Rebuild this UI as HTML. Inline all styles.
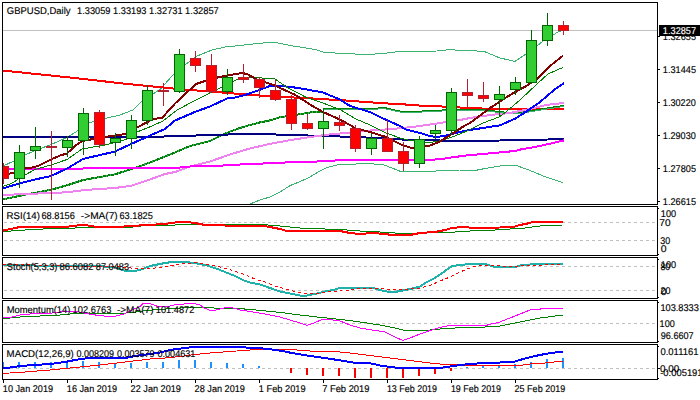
<!DOCTYPE html><html><head><meta charset="utf-8"><title>GBPUSD Daily</title>
<style>html,body{margin:0;padding:0;background:#fff;}svg{display:block}text{font-family:"Liberation Sans", sans-serif}</style></head><body>
<svg width="700" height="400" viewBox="0 0 700 400">
<rect width="700" height="400" fill="#fff"/>
<defs><clipPath id="cm"><rect x="3" y="3" width="654" height="201"/></clipPath></defs>
<g shape-rendering="crispEdges">
<line x1="4" x2="657" y1="222.5" y2="222.5" stroke="#c0c0c0" stroke-width="1" stroke-dasharray="3 3"/>
<line x1="4" x2="657" y1="240.5" y2="240.5" stroke="#c0c0c0" stroke-width="1" stroke-dasharray="3 3"/>
<line x1="4" x2="657" y1="266.5" y2="266.5" stroke="#c0c0c0" stroke-width="1" stroke-dasharray="3 3"/>
<line x1="4" x2="657" y1="290.5" y2="290.5" stroke="#c0c0c0" stroke-width="1" stroke-dasharray="3 3"/>
<line x1="4" x2="657" y1="323.5" y2="323.5" stroke="#c0c0c0" stroke-width="1" stroke-dasharray="3 3"/>
<line x1="4" x2="657" y1="368.5" y2="368.5" stroke="#c0c0c0" stroke-width="1" stroke-dasharray="3 3"/>
<line x1="3" x2="657" y1="30.5" y2="30.5" stroke="#c0c0c0" stroke-width="1"/>
</g>
<g clip-path="url(#cm)" shape-rendering="crispEdges" stroke-linejoin="round">
<polyline points="2.00,166.50 14.00,161.00 25.00,155.00 35.00,150.50 50.00,145.00 67.00,137.50 75.00,132.50 90.00,122.50 107.00,118.00 120.00,115.00 133.00,110.00 142.00,101.00 160.00,89.50 172.00,76.00 185.00,65.00 197.00,56.00 212.00,50.00 225.00,47.00 240.00,45.50 257.00,43.50 270.00,42.50 276.00,42.50 290.00,45.50 300.00,47.00 315.00,49.50 325.00,52.50 365.00,54.50 380.00,53.75 400.00,51.50 437.00,51.00 450.00,49.50 460.00,50.50 470.00,50.60 484.00,51.40 500.00,58.00 515.00,61.40 526.00,54.00 537.00,46.00 543.00,41.00 553.00,35.00 558.00,32.00 563.00,30.00" fill="none" stroke="#3cb371" stroke-width="1"/>
<polyline points="250.00,204.00 261.00,199.60 270.00,197.00 280.00,192.00 290.00,185.60 300.00,181.60 310.00,177.00 318.00,172.00 326.00,168.00 334.00,165.60 342.00,164.00 356.00,164.00 370.00,163.60 384.00,165.00 392.00,168.00 402.00,172.00 428.00,171.60 444.00,170.40 460.00,170.00 475.00,170.50 485.00,168.50 500.00,166.00 515.00,165.00 530.00,170.50 547.00,177.50 563.00,182.50" fill="none" stroke="#3cb371" stroke-width="1"/>
<polyline points="2.00,70.50 75.00,78.00 125.00,83.75 150.00,86.25 175.00,88.75 240.00,94.00 280.00,97.00 307.00,98.00 323.00,99.25 340.00,100.00 360.00,101.60 386.00,103.40 404.00,104.40 420.00,105.60 444.00,106.60 468.00,108.00 484.00,108.60 500.00,109.00 564.00,109.00" fill="none" stroke="#ff0000" stroke-width="2"/>
<polyline points="2.00,199.50 30.00,193.75 50.00,190.00 67.00,185.30 83.00,180.00 99.00,177.20 115.00,174.30 131.00,169.20 140.00,166.25 155.00,160.50 175.00,152.50 190.00,146.00 210.00,141.00 220.00,136.00 230.00,131.60 240.00,128.00 250.00,125.00 260.00,122.40 270.00,120.40 280.00,117.25 295.00,115.00 310.00,112.50 323.00,112.00" fill="none" stroke="#3cb371" stroke-width="2"/>
<polyline points="2.00,199.50 30.00,193.75 50.00,190.00 67.00,185.30 83.00,180.00 99.00,177.20 115.00,174.30 131.00,169.20 140.00,166.25 155.00,160.50 175.00,152.50 190.00,146.00 210.00,141.00 220.00,136.00 230.00,131.60 240.00,128.00 250.00,125.00 260.00,122.40 270.00,120.40 280.00,117.25 295.00,115.00 310.00,112.50 323.00,112.00" fill="none" stroke="#008000" stroke-width="2" stroke-dasharray="3 1"/>
<polyline points="323.00,112.50 323.00,110.00 340.00,109.50 386.00,108.90 400.00,112.10 420.00,112.10 444.00,110.90 457.00,110.10 483.00,110.50 499.00,112.50 515.00,114.00 531.00,111.70 547.00,109.00 564.00,106.40" fill="none" stroke="#3cb371" stroke-width="1"/>
<polyline points="323.00,111.50 323.00,109.00 340.00,108.50 386.00,107.90 400.00,111.10 420.00,111.10 444.00,109.90 457.00,109.10 483.00,109.50 499.00,111.50 515.00,113.00 531.00,110.70 547.00,108.00 564.00,105.40" fill="none" stroke="#008000" stroke-width="1"/>
<polyline points="2.00,137.00 148.00,137.00 164.00,136.50 196.00,135.50 228.00,134.50 244.00,134.00 262.00,134.00 276.00,134.50 308.00,135.50 340.00,136.50 366.00,137.50 386.00,138.50 404.00,139.60 440.00,140.50 480.00,141.00 500.00,140.50 548.00,139.50 564.00,139.00" fill="none" stroke="#000080" stroke-width="2"/>
</g>
<g clip-path="url(#cm)" shape-rendering="crispEdges" stroke-linejoin="round">
<polyline points="2.00,195.00 50.00,193.00 67.00,192.30 83.00,190.20 99.00,189.00 115.00,188.00 131.00,185.80 150.00,179.50 165.00,174.00 175.00,172.00 190.00,166.50 210.00,161.50 230.00,154.50 250.00,148.50 270.00,143.80 290.00,140.20 310.00,137.00 330.00,134.40 350.00,132.60 370.00,130.50 385.00,129.50 400.00,128.30 420.00,126.00 440.00,123.00 460.00,120.00 470.00,118.00 490.00,115.00 510.00,113.00 530.00,109.00 546.00,105.00 564.00,103.00" fill="none" stroke="#ee82ee" stroke-width="2"/>
<polyline points="2.00,169.00 82.50,169.00 83.50,168.00 175.00,168.00 190.00,166.50 210.00,166.40 230.00,165.00 250.00,164.00 276.00,163.00 294.00,162.00 322.00,161.40 340.00,160.20 360.00,159.60 400.00,159.60 435.00,159.50 443.00,158.80 451.00,157.50 467.00,155.40 485.00,153.75 515.00,151.00 520.00,149.60 540.00,146.00 564.00,140.40" fill="none" stroke="#ff00ff" stroke-width="2"/>
<polyline points="2.00,188.70 19.00,183.50 35.00,179.50 51.00,176.00 67.00,168.60 83.00,159.00 115.00,151.50 130.00,144.50 150.00,135.50 165.00,129.00 175.00,120.50 196.00,111.50 210.00,106.50 227.00,98.50 235.00,97.50 246.00,94.70 259.40,90.00 268.75,86.40 280.00,86.00 290.00,86.80 307.00,89.50 323.00,92.50 340.00,99.50 350.00,106.00 360.00,109.00 370.00,112.00 380.00,117.00 390.00,121.60 400.00,126.00 406.00,129.60 420.00,133.00 430.00,136.00 436.00,137.00 444.00,136.00 452.00,134.00 464.00,131.00 470.00,130.00 500.00,125.30 516.00,118.30 530.00,109.00 540.00,102.00 554.00,90.00 564.00,83.00" fill="none" stroke="#0000ff" stroke-width="2"/>
<polyline points="2.00,186.70 10.00,184.00 14.00,182.00 19.00,178.50 25.00,175.00 35.00,169.50 51.00,165.00 67.00,159.50 82.00,149.00 105.00,145.00 126.50,139.40 137.50,131.80 142.00,130.00 150.00,126.80 163.00,121.00 177.00,110.00 194.00,101.00 210.00,93.00 222.00,87.00 236.00,80.00 245.00,77.50 262.00,78.00 275.00,79.00 288.00,88.00 307.00,97.75 323.00,103.00 340.00,109.60 356.00,119.00 370.00,125.00 386.00,133.00 400.00,138.00 408.00,140.00 426.00,142.40 437.00,141.80 446.00,139.00 452.00,137.00 460.00,134.00 470.00,129.50 483.00,123.00 499.00,117.00 506.00,112.00 520.00,100.00 537.00,84.00 548.00,74.00 563.00,67.40" fill="none" stroke="#008000" stroke-width="1"/>
<polyline points="3.00,174.50 14.00,173.00 19.00,170.50 25.00,168.50 35.00,167.00 40.00,165.00 51.00,159.50 60.00,155.50 67.00,153.50 75.00,146.00 82.00,141.00 105.00,137.00 125.00,134.00 140.00,126.00 152.50,119.25 162.25,117.75 175.00,103.50 196.00,84.00 205.00,81.00 218.50,77.25 226.00,75.75 242.00,73.00 247.00,74.00 257.00,79.50 275.00,85.50 280.00,88.00 295.00,94.75 310.00,104.50 323.00,112.00 340.00,119.60 350.00,125.00 356.00,128.60 370.00,132.00 386.00,137.00 402.00,144.90 410.00,147.50 420.00,147.50 430.00,145.50 440.00,141.50 452.00,134.00 464.00,126.00 470.00,123.00 490.00,108.00 510.00,95.00 527.00,85.60 537.00,79.00 550.00,66.00 563.00,55.60" fill="none" stroke="#800000" stroke-width="2"/>
</g>
<g clip-path="url(#cm)" shape-rendering="crispEdges">
<rect x="3" y="163" width="1" height="21" fill="#b4202e"/>
<rect x="-2" y="166" width="11" height="13" fill="#b4202e"/>
<rect x="-1" y="167" width="9" height="11" fill="#ff0000"/>
<rect x="19" y="145" width="1" height="43" fill="#006400"/>
<rect x="14" y="152" width="11" height="27" fill="#006400"/>
<rect x="15" y="153" width="9" height="25" fill="#32cd32"/>
<rect x="35" y="127" width="1" height="32" fill="#006400"/>
<rect x="30" y="146" width="11" height="5" fill="#006400"/>
<rect x="31" y="147" width="9" height="3" fill="#32cd32"/>
<rect x="51" y="131" width="1" height="69" fill="#b4202e"/>
<rect x="46" y="146" width="11" height="2" fill="#b4202e"/>
<rect x="67" y="136" width="1" height="21" fill="#006400"/>
<rect x="62" y="140" width="11" height="8" fill="#006400"/>
<rect x="63" y="141" width="9" height="6" fill="#32cd32"/>
<rect x="83" y="108" width="1" height="47" fill="#006400"/>
<rect x="78" y="113" width="11" height="28" fill="#006400"/>
<rect x="79" y="114" width="9" height="26" fill="#32cd32"/>
<rect x="99" y="110" width="1" height="38" fill="#b4202e"/>
<rect x="94" y="112" width="11" height="33" fill="#b4202e"/>
<rect x="95" y="113" width="9" height="31" fill="#ff0000"/>
<rect x="115" y="133" width="1" height="23" fill="#006400"/>
<rect x="110" y="138" width="11" height="5" fill="#006400"/>
<rect x="111" y="139" width="9" height="3" fill="#32cd32"/>
<rect x="131" y="115" width="1" height="34" fill="#006400"/>
<rect x="126" y="120" width="11" height="19" fill="#006400"/>
<rect x="127" y="121" width="9" height="17" fill="#32cd32"/>
<rect x="147" y="85" width="1" height="40" fill="#006400"/>
<rect x="142" y="90" width="11" height="31" fill="#006400"/>
<rect x="143" y="91" width="9" height="29" fill="#32cd32"/>
<rect x="163" y="83" width="1" height="23" fill="#b4202e"/>
<rect x="158" y="90" width="11" height="2" fill="#b4202e"/>
<rect x="179" y="49" width="1" height="44" fill="#006400"/>
<rect x="174" y="54" width="11" height="38" fill="#006400"/>
<rect x="175" y="55" width="9" height="36" fill="#32cd32"/>
<rect x="195" y="51" width="1" height="21" fill="#b4202e"/>
<rect x="190" y="58" width="11" height="8" fill="#b4202e"/>
<rect x="191" y="59" width="9" height="6" fill="#ff0000"/>
<rect x="211" y="54" width="1" height="39" fill="#b4202e"/>
<rect x="206" y="65" width="11" height="27" fill="#b4202e"/>
<rect x="207" y="66" width="9" height="25" fill="#ff0000"/>
<rect x="227" y="69" width="1" height="26" fill="#006400"/>
<rect x="222" y="77" width="11" height="15" fill="#006400"/>
<rect x="223" y="78" width="9" height="13" fill="#32cd32"/>
<rect x="243" y="64" width="1" height="19" fill="#b4202e"/>
<rect x="238" y="77" width="11" height="3" fill="#b4202e"/>
<rect x="239" y="78" width="9" height="1" fill="#ff0000"/>
<rect x="259" y="77" width="1" height="21" fill="#b4202e"/>
<rect x="254" y="79" width="11" height="9" fill="#b4202e"/>
<rect x="255" y="80" width="9" height="7" fill="#ff0000"/>
<rect x="275" y="80" width="1" height="21" fill="#b4202e"/>
<rect x="270" y="90" width="11" height="10" fill="#b4202e"/>
<rect x="271" y="91" width="9" height="8" fill="#ff0000"/>
<rect x="291" y="95" width="1" height="35" fill="#b4202e"/>
<rect x="286" y="99" width="11" height="25" fill="#b4202e"/>
<rect x="287" y="100" width="9" height="23" fill="#ff0000"/>
<rect x="307" y="114" width="1" height="16" fill="#b4202e"/>
<rect x="302" y="123" width="11" height="6" fill="#b4202e"/>
<rect x="303" y="124" width="9" height="4" fill="#ff0000"/>
<rect x="323" y="109" width="1" height="40" fill="#006400"/>
<rect x="318" y="121" width="11" height="8" fill="#006400"/>
<rect x="319" y="122" width="9" height="6" fill="#32cd32"/>
<rect x="339" y="115" width="1" height="16" fill="#b4202e"/>
<rect x="334" y="122" width="11" height="4" fill="#b4202e"/>
<rect x="335" y="123" width="9" height="2" fill="#ff0000"/>
<rect x="355" y="125" width="1" height="27" fill="#b4202e"/>
<rect x="350" y="128" width="11" height="21" fill="#b4202e"/>
<rect x="351" y="129" width="9" height="19" fill="#ff0000"/>
<rect x="371" y="133" width="1" height="22" fill="#006400"/>
<rect x="366" y="138" width="11" height="11" fill="#006400"/>
<rect x="367" y="139" width="9" height="9" fill="#32cd32"/>
<rect x="387" y="120" width="1" height="32" fill="#b4202e"/>
<rect x="382" y="138" width="11" height="14" fill="#b4202e"/>
<rect x="383" y="139" width="9" height="12" fill="#ff0000"/>
<rect x="403" y="142" width="1" height="29" fill="#b4202e"/>
<rect x="398" y="151" width="11" height="13" fill="#b4202e"/>
<rect x="399" y="152" width="9" height="11" fill="#ff0000"/>
<rect x="419" y="136" width="1" height="32" fill="#006400"/>
<rect x="414" y="139" width="11" height="25" fill="#006400"/>
<rect x="415" y="140" width="9" height="23" fill="#32cd32"/>
<rect x="435" y="125" width="1" height="14" fill="#006400"/>
<rect x="430" y="130" width="11" height="4" fill="#006400"/>
<rect x="431" y="131" width="9" height="2" fill="#32cd32"/>
<rect x="451" y="88" width="1" height="47" fill="#006400"/>
<rect x="446" y="92" width="11" height="39" fill="#006400"/>
<rect x="447" y="93" width="9" height="37" fill="#32cd32"/>
<rect x="467" y="79" width="1" height="28" fill="#b4202e"/>
<rect x="462" y="92" width="11" height="4" fill="#b4202e"/>
<rect x="463" y="93" width="9" height="2" fill="#ff0000"/>
<rect x="483" y="82" width="1" height="20" fill="#b4202e"/>
<rect x="478" y="95" width="11" height="4" fill="#b4202e"/>
<rect x="479" y="96" width="9" height="2" fill="#ff0000"/>
<rect x="499" y="86" width="1" height="31" fill="#006400"/>
<rect x="494" y="94" width="11" height="6" fill="#006400"/>
<rect x="495" y="95" width="9" height="4" fill="#32cd32"/>
<rect x="515" y="77" width="1" height="18" fill="#006400"/>
<rect x="510" y="82" width="11" height="8" fill="#006400"/>
<rect x="511" y="83" width="9" height="6" fill="#32cd32"/>
<rect x="531" y="30" width="1" height="54" fill="#006400"/>
<rect x="526" y="40" width="11" height="43" fill="#006400"/>
<rect x="527" y="41" width="9" height="41" fill="#32cd32"/>
<rect x="547" y="13" width="1" height="33" fill="#006400"/>
<rect x="542" y="25" width="11" height="16" fill="#006400"/>
<rect x="543" y="26" width="9" height="14" fill="#32cd32"/>
<rect x="563" y="21" width="1" height="14" fill="#b4202e"/>
<rect x="558" y="25" width="11" height="6" fill="#b4202e"/>
<rect x="559" y="26" width="9" height="4" fill="#ff0000"/>
</g>
<g shape-rendering="crispEdges" stroke-linejoin="round">
<polyline points="3.00,231.60 19.00,230.40 35.00,229.40 51.00,228.60 67.00,228.40 83.00,227.60 99.00,227.60 115.00,227.60 131.00,227.20 150.00,225.00 165.00,226.00 175.00,225.00 200.00,224.50 260.00,224.50 275.00,225.50 290.00,227.00 305.00,228.50 325.00,229.00 347.00,230.00 360.00,231.00 380.00,232.00 395.00,233.00 410.00,233.50 420.00,233.00 450.00,232.50 460.00,231.50 480.00,230.50 495.00,230.00 510.00,229.00 525.00,228.00 535.00,226.50 545.00,225.50 563.00,225.00" fill="none" stroke="#008000" stroke-width="1"/>
<polyline points="3.00,230.60 19.00,227.20 35.00,227.00 51.00,227.00 67.00,226.80 83.00,224.80 99.00,227.20 115.00,227.20 131.00,226.00 147.00,225.00 165.00,224.00 175.00,222.50 180.00,222.00 187.00,222.00 195.00,223.00 200.00,224.00 205.00,225.00 225.00,225.50 260.00,225.50 270.00,227.00 280.00,229.00 287.00,231.00 330.00,231.00 340.00,231.00 350.00,233.00 360.00,234.00 372.00,233.00 385.00,234.00 392.00,235.00 410.00,235.00 420.00,233.00 435.00,232.00 440.00,231.00 445.00,230.00 452.00,228.00 462.00,227.00 475.00,228.00 500.00,227.50 515.00,226.50 520.00,225.00 530.00,223.00 532.00,222.00 563.00,222.00" fill="none" stroke="#ff0000" stroke-width="2"/>
<polyline points="3.00,265.00 35.00,265.50 67.00,266.50 99.00,266.20 115.00,267.20 125.00,271.00 132.00,271.50 140.00,270.00 150.00,266.00 165.00,263.00 172.00,262.00 185.00,262.00 195.00,263.00 205.00,265.00 215.00,268.00 225.00,272.00 235.00,276.00 245.00,281.00 252.00,283.00 260.00,284.50 270.00,288.00 280.00,291.50 290.00,293.50 300.00,295.50 307.00,295.50 315.00,294.00 325.00,291.50 335.00,289.50 340.00,288.00 355.00,288.00 372.00,287.50 380.00,290.00 387.00,291.50 395.00,292.00 405.00,290.00 415.00,288.00 420.00,286.50 425.00,283.00 435.00,278.00 445.00,271.00 452.00,266.00 460.00,265.00 470.00,264.00 485.00,264.00 492.00,266.00 495.00,267.00 515.00,267.00 522.00,265.00 530.00,264.50 535.00,264.00 563.00,264.00" fill="none" stroke="#20b2aa" stroke-width="2"/>
<polyline points="3.00,264.50 35.00,265.00 67.00,266.00 99.00,266.20 115.00,266.60 131.00,268.00 150.00,269.00 160.00,267.00 165.00,267.00 175.00,265.00 185.00,263.50 196.00,262.60 204.00,263.60 212.00,265.00 224.00,268.00 232.00,270.40 240.00,272.80 255.00,279.00 265.00,282.00 275.00,286.00 285.00,289.00 295.00,291.50 305.00,293.50 315.00,293.50 325.00,292.50 335.00,291.00 340.00,291.00 350.00,290.00 362.00,288.00 375.00,288.00 385.00,289.00 395.00,289.50 410.00,289.00 420.00,288.00 430.00,285.50 440.00,281.00 450.00,277.00 460.00,272.00 470.00,268.00 480.00,265.00 490.00,265.00 500.00,266.00 520.00,266.00 530.00,265.50 545.00,265.00 563.00,264.50" fill="none" stroke="#ff0000" stroke-width="1" stroke-dasharray="3 3"/>
<polyline points="3.00,318.60 10.00,318.00 20.00,317.00 40.00,316.00 60.00,315.00 70.00,314.00 88.00,313.40 104.00,314.00 120.00,313.40 132.00,312.60 140.00,311.40 152.00,310.00 166.00,309.00 180.00,308.00 194.00,307.00 204.00,307.40 220.00,308.40 240.00,308.60 260.00,310.40 280.00,312.40 300.00,315.00 320.00,317.30 345.00,320.00 360.00,322.00 380.00,325.00 395.00,328.00 403.00,330.00 415.00,330.50 430.00,330.00 440.00,329.00 455.00,328.00 470.00,327.50 485.00,327.00 500.00,326.00 510.00,324.00 525.00,321.00 540.00,318.00 563.00,315.00" fill="none" stroke="#008000" stroke-width="1"/>
<polyline points="3.00,318.00 12.00,317.00 20.00,315.00 30.00,314.00 40.00,313.40 52.00,313.00 60.00,312.00 68.00,311.40 76.00,311.40 84.00,313.00 92.00,314.60 104.00,316.00 114.00,316.60 124.00,314.00 132.00,310.00 140.00,306.60 143.00,303.60 149.00,303.40 154.00,305.00 158.00,306.60 166.00,307.00 174.00,305.00 184.00,304.00 194.00,303.40 200.00,305.00 204.00,308.00 212.00,311.00 216.00,310.00 224.00,308.00 230.00,307.40 236.00,308.60 240.00,310.00 250.00,311.50 265.00,314.00 280.00,317.00 290.00,320.00 300.00,323.00 307.00,325.50 315.00,322.50 322.00,319.50 330.00,319.50 340.00,321.00 350.00,325.00 360.00,328.00 372.00,330.00 385.00,332.00 395.00,337.00 403.00,340.50 410.00,338.00 420.00,334.00 430.00,330.50 440.00,327.50 450.00,325.40 486.00,325.40 492.00,323.80 499.00,322.30 515.00,316.00 531.00,309.60 547.00,308.60 563.00,308.60" fill="none" stroke="#ff00ff" stroke-width="1"/>
<rect x="2" y="362" width="2" height="6" fill="#1e90ff"/>
<rect x="18" y="362" width="2" height="6" fill="#1e90ff"/>
<rect x="34" y="362" width="2" height="6" fill="#1e90ff"/>
<rect x="50" y="362" width="2" height="6" fill="#1e90ff"/>
<rect x="66" y="361" width="2" height="7" fill="#1e90ff"/>
<rect x="82" y="361" width="2" height="7" fill="#1e90ff"/>
<rect x="98" y="362" width="2" height="6" fill="#1e90ff"/>
<rect x="114" y="363" width="2" height="5" fill="#1e90ff"/>
<rect x="130" y="363" width="2" height="5" fill="#1e90ff"/>
<rect x="146" y="362" width="2" height="6" fill="#1e90ff"/>
<rect x="162" y="362" width="2" height="6" fill="#1e90ff"/>
<rect x="178" y="360" width="2" height="8" fill="#1e90ff"/>
<rect x="194" y="360" width="2" height="8" fill="#1e90ff"/>
<rect x="210" y="362" width="2" height="6" fill="#1e90ff"/>
<rect x="226" y="363" width="2" height="5" fill="#1e90ff"/>
<rect x="242" y="364" width="2" height="4" fill="#1e90ff"/>
<rect x="258" y="366" width="2" height="2" fill="#1e90ff"/>
<rect x="290" y="368" width="2" height="5" fill="#ff0000"/>
<rect x="306" y="368" width="2" height="7" fill="#ff0000"/>
<rect x="322" y="368" width="2" height="8" fill="#ff0000"/>
<rect x="338" y="368" width="2" height="8" fill="#ff0000"/>
<rect x="354" y="368" width="2" height="10" fill="#ff0000"/>
<rect x="370" y="368" width="2" height="10" fill="#ff0000"/>
<rect x="386" y="368" width="2" height="10" fill="#ff0000"/>
<rect x="402" y="368" width="2" height="10" fill="#ff0000"/>
<rect x="418" y="368" width="2" height="8" fill="#ff0000"/>
<rect x="434" y="368" width="2" height="6" fill="#ff0000"/>
<rect x="450" y="368" width="2" height="3" fill="#ff0000"/>
<rect x="466" y="367" width="2" height="1" fill="#1e90ff"/>
<rect x="482" y="366" width="2" height="2" fill="#1e90ff"/>
<rect x="498" y="365" width="2" height="3" fill="#1e90ff"/>
<rect x="514" y="364" width="2" height="4" fill="#1e90ff"/>
<rect x="530" y="362" width="2" height="6" fill="#1e90ff"/>
<rect x="546" y="359" width="2" height="9" fill="#1e90ff"/>
<rect x="562" y="358" width="2" height="10" fill="#1e90ff"/>
<polyline points="2.00,373.50 25.00,372.00 50.00,370.00 75.00,367.50 100.00,365.00 125.00,362.00 150.00,359.00 165.00,358.00 180.00,356.50 195.00,354.50 210.00,353.00 230.00,351.50 250.00,350.00 270.00,349.00 290.00,349.50 310.00,351.00 330.00,351.00 350.00,353.00 370.00,355.50 390.00,358.00 410.00,360.50 430.00,363.00 445.00,364.50 460.00,365.00 485.00,365.50 520.00,365.50 530.00,364.00 545.00,363.00 563.00,361.00" fill="none" stroke="#ff0000" stroke-width="1"/>
<polyline points="2.00,368.00 10.00,367.50 20.00,366.00 35.00,365.00 50.00,364.00 65.00,362.00 75.00,360.00 85.00,358.50 125.00,358.00 135.00,356.00 150.00,354.00 160.00,352.60 170.00,350.00 180.00,348.60 190.00,347.40 196.00,347.00 242.00,347.00 250.00,348.00 260.00,348.20 270.00,349.20 276.00,350.00 284.00,351.20 290.00,352.60 306.00,355.40 320.00,357.40 338.00,360.00 354.00,362.60 370.00,363.20 380.00,365.50 390.00,367.00 400.00,368.00 440.00,368.00 450.00,366.50 460.00,365.00 470.00,364.00 485.00,363.00 500.00,362.50 515.00,361.50 525.00,358.50 535.00,356.00 545.00,354.00 555.00,352.50 563.00,351.50" fill="none" stroke="#0000ff" stroke-width="2"/>
</g>
<g shape-rendering="crispEdges" fill="none" stroke="#000" stroke-width="1">
<rect x="2.5" y="2.5" width="655" height="202"/>
<rect x="2.5" y="206.5" width="655" height="49"/>
<rect x="2.5" y="257.5" width="655" height="41"/>
<rect x="2.5" y="300.5" width="655" height="42"/>
<rect x="2.5" y="344.5" width="655" height="35"/>
<line x1="658" x2="660" y1="36.5" y2="36.5"/>
<line x1="658" x2="660" y1="69.5" y2="69.5"/>
<line x1="658" x2="660" y1="102.5" y2="102.5"/>
<line x1="658" x2="660" y1="135.5" y2="135.5"/>
<line x1="658" x2="660" y1="168.5" y2="168.5"/>
<line x1="658" x2="660" y1="201.5" y2="201.5"/>
<line x1="658" x2="660" y1="368.5" y2="368.5"/>
<rect x="658" y="208" width="1" height="1" fill="#000" stroke="none"/>
<rect x="658" y="254" width="1" height="1" fill="#000" stroke="none"/>
<rect x="658" y="259" width="1" height="1" fill="#000" stroke="none"/>
<rect x="658" y="297" width="1" height="1" fill="#000" stroke="none"/>
<rect x="658" y="302" width="1" height="1" fill="#000" stroke="none"/>
<rect x="658" y="341" width="1" height="1" fill="#000" stroke="none"/>
<rect x="658" y="346" width="1" height="1" fill="#000" stroke="none"/>
<rect x="658" y="378" width="1" height="1" fill="#000" stroke="none"/>
<line x1="3.5" x2="3.5" y1="380" y2="383"/>
<line x1="67.5" x2="67.5" y1="380" y2="383"/>
<line x1="131.5" x2="131.5" y1="380" y2="383"/>
<line x1="195.5" x2="195.5" y1="380" y2="383"/>
<line x1="259.5" x2="259.5" y1="380" y2="383"/>
<line x1="323.5" x2="323.5" y1="380" y2="383"/>
<line x1="387.5" x2="387.5" y1="380" y2="383"/>
<line x1="451.5" x2="451.5" y1="380" y2="383"/>
<line x1="515.5" x2="515.5" y1="380" y2="383"/>
</g>
<text transform="translate(6.77,14) skewX(0.05)" font-size="9.8" fill="#000" stroke="#000" stroke-width="0.15" textLength="63.8" lengthAdjust="spacingAndGlyphs">GBPUSD,Daily</text>
<text transform="translate(77.12,14) skewX(0.05)" font-size="9.8" fill="#000" stroke="#000" stroke-width="0.15" textLength="33.3" lengthAdjust="spacingAndGlyphs">1.33059</text>
<text transform="translate(113.12,14) skewX(0.05)" font-size="9.8" fill="#000" stroke="#000" stroke-width="0.15" textLength="33.29" lengthAdjust="spacingAndGlyphs">1.33193</text>
<text transform="translate(149.12,14) skewX(0.05)" font-size="9.8" fill="#000" stroke="#000" stroke-width="0.15" textLength="33.48" lengthAdjust="spacingAndGlyphs">1.32731</text>
<text transform="translate(185.12,14) skewX(0.05)" font-size="9.8" fill="#000" stroke="#000" stroke-width="0.15" textLength="33.66" lengthAdjust="spacingAndGlyphs">1.32857</text>
<text transform="translate(6.62,219) skewX(0.05)" font-size="9.8" fill="#000" stroke="#000" stroke-width="0.15" textLength="33.25" lengthAdjust="spacingAndGlyphs">RSI(14)</text>
<text transform="translate(41.42,219) skewX(0.05)" font-size="9.8" fill="#000" stroke="#000" stroke-width="0.15" textLength="33.44" lengthAdjust="spacingAndGlyphs">68.8156</text>
<text transform="translate(80.87,219) skewX(0.05)" font-size="9.8" fill="#000" stroke="#000" stroke-width="0.15" textLength="36.86" lengthAdjust="spacingAndGlyphs">-&gt;MA(7)</text>
<text transform="translate(119.44,219) skewX(0.05)" font-size="9.8" fill="#000" stroke="#000" stroke-width="0.15" textLength="33.32" lengthAdjust="spacingAndGlyphs">63.1825</text>
<text transform="translate(6.87,270) skewX(0.05)" font-size="9.8" fill="#000" stroke="#000" stroke-width="0.15" textLength="50.54" lengthAdjust="spacingAndGlyphs">Stoch(5,3,3)</text>
<text transform="translate(59.5,270) skewX(0.05)" font-size="9.8" fill="#000" stroke="#000" stroke-width="0.15" textLength="34.07" lengthAdjust="spacingAndGlyphs">86.6082</text>
<text transform="translate(95.87,270) skewX(0.05)" font-size="9.8" fill="#000" stroke="#000" stroke-width="0.15" textLength="33.16" lengthAdjust="spacingAndGlyphs">87.0483</text>
<text transform="translate(6.68,313) skewX(0.05)" font-size="9.8" fill="#000" stroke="#000" stroke-width="0.15" textLength="63.76" lengthAdjust="spacingAndGlyphs">Momentum(14)</text>
<text transform="translate(72.58,313) skewX(0.05)" font-size="9.8" fill="#000" stroke="#000" stroke-width="0.15" textLength="38.81" lengthAdjust="spacingAndGlyphs">102.6763</text>
<text transform="translate(116.88,313) skewX(0.05)" font-size="9.8" fill="#000" stroke="#000" stroke-width="0.15" textLength="36.65" lengthAdjust="spacingAndGlyphs">-&gt;MA(7)</text>
<text transform="translate(155.87,313) skewX(0.05)" font-size="9.8" fill="#000" stroke="#000" stroke-width="0.15" textLength="38.41" lengthAdjust="spacingAndGlyphs">101.4872</text>
<text transform="translate(6.62,357) skewX(0.05)" font-size="9.8" fill="#000" stroke="#000" stroke-width="0.15" textLength="67.23" lengthAdjust="spacingAndGlyphs">MACD(12,26,9)</text>
<text transform="translate(76.4,357) skewX(0.05)" font-size="9.8" fill="#000" stroke="#000" stroke-width="0.15" textLength="37.55" lengthAdjust="spacingAndGlyphs">0.008209</text>
<text transform="translate(117.02,357) skewX(0.05)" font-size="9.8" fill="#000" stroke="#000" stroke-width="0.15" textLength="37.49" lengthAdjust="spacingAndGlyphs">0.003579</text>
<text transform="translate(157.4,357) skewX(0.05)" font-size="9.8" fill="#000" stroke="#000" stroke-width="0.15" textLength="38.06" lengthAdjust="spacingAndGlyphs">0.004631</text>
<text transform="translate(662.87,40) skewX(0.05)" font-size="9.8" fill="#000" stroke="#000" stroke-width="0.15" textLength="33.12" lengthAdjust="spacingAndGlyphs">1.32655</text>
<text transform="translate(662.87,73) skewX(0.05)" font-size="9.8" fill="#000" stroke="#000" stroke-width="0.15" textLength="33.12" lengthAdjust="spacingAndGlyphs">1.31445</text>
<text transform="translate(662.87,106) skewX(0.05)" font-size="9.8" fill="#000" stroke="#000" stroke-width="0.15" textLength="32.95" lengthAdjust="spacingAndGlyphs">1.30220</text>
<text transform="translate(662.87,139) skewX(0.05)" font-size="9.8" fill="#000" stroke="#000" stroke-width="0.15" textLength="32.95" lengthAdjust="spacingAndGlyphs">1.29030</text>
<text transform="translate(662.87,172) skewX(0.05)" font-size="9.8" fill="#000" stroke="#000" stroke-width="0.15" textLength="33.12" lengthAdjust="spacingAndGlyphs">1.27805</text>
<text transform="translate(662.87,205) skewX(0.05)" font-size="9.8" fill="#000" stroke="#000" stroke-width="0.15" textLength="33.12" lengthAdjust="spacingAndGlyphs">1.26615</text>
<text transform="translate(660.87,217) skewX(0.05)" font-size="9.8" fill="#000" stroke="#000" stroke-width="0.15" textLength="15.37" lengthAdjust="spacingAndGlyphs">100</text>
<text transform="translate(659.37,226) skewX(0.05)" font-size="9.8" fill="#000" stroke="#000" stroke-width="0.15" textLength="11.24" lengthAdjust="spacingAndGlyphs">70</text>
<text transform="translate(660.27,244) skewX(0.05)" font-size="9.8" fill="#000" stroke="#000" stroke-width="0.15" textLength="9.96" lengthAdjust="spacingAndGlyphs">30</text>
<text transform="translate(660.82,252) skewX(0.05)" font-size="9.8" fill="#000" stroke="#000" stroke-width="0.15" textLength="5.82" lengthAdjust="spacingAndGlyphs">0</text>
<text transform="translate(660.87,268) skewX(0.05)" font-size="9.8" fill="#000" stroke="#000" stroke-width="0.15" textLength="15.37" lengthAdjust="spacingAndGlyphs">100</text>
<text transform="translate(660.39,270) skewX(0.05)" font-size="9.8" fill="#000" stroke="#000" stroke-width="0.15" textLength="9.91" lengthAdjust="spacingAndGlyphs">80</text>
<text transform="translate(660.6,294) skewX(0.05)" font-size="9.8" fill="#000" stroke="#000" stroke-width="0.15" textLength="9.97" lengthAdjust="spacingAndGlyphs">20</text>
<text transform="translate(660.82,295) skewX(0.05)" font-size="9.8" fill="#000" stroke="#000" stroke-width="0.15" textLength="5.82" lengthAdjust="spacingAndGlyphs">0</text>
<text transform="translate(660.4,311) skewX(0.05)" font-size="9.8" fill="#000" stroke="#000" stroke-width="0.15" textLength="38.5" lengthAdjust="spacingAndGlyphs">103.8333</text>
<text transform="translate(659.61,327) skewX(0.05)" font-size="9.8" fill="#000" stroke="#000" stroke-width="0.15" textLength="15.17" lengthAdjust="spacingAndGlyphs">100</text>
<text transform="translate(660.7,339) skewX(0.05)" font-size="9.8" fill="#000" stroke="#000" stroke-width="0.15" textLength="33.01" lengthAdjust="spacingAndGlyphs">96.6607</text>
<text transform="translate(660.46,355) skewX(0.05)" font-size="9.8" fill="#000" stroke="#000" stroke-width="0.15" textLength="38.1" lengthAdjust="spacingAndGlyphs">0.011161</text>
<text transform="translate(660.12,372) skewX(0.05)" font-size="9.8" fill="#000" stroke="#000" stroke-width="0.15" textLength="19.23" lengthAdjust="spacingAndGlyphs">0.00</text>
<text transform="translate(660.16,376) skewX(0.05)" font-size="9.8" fill="#000" stroke="#000" stroke-width="0.15" textLength="42.44" lengthAdjust="spacingAndGlyphs">-0.005191</text>
<text transform="translate(2.87,392) skewX(0.05)" font-size="9.8" fill="#000" stroke="#000" stroke-width="0.15" textLength="50.22" lengthAdjust="spacingAndGlyphs">10 Jan 2019</text>
<text transform="translate(66.87,392) skewX(0.05)" font-size="9.8" fill="#000" stroke="#000" stroke-width="0.15" textLength="50.22" lengthAdjust="spacingAndGlyphs">16 Jan 2019</text>
<text transform="translate(130.59,392) skewX(0.05)" font-size="9.8" fill="#000" stroke="#000" stroke-width="0.15" textLength="50.38" lengthAdjust="spacingAndGlyphs">22 Jan 2019</text>
<text transform="translate(194.59,392) skewX(0.05)" font-size="9.8" fill="#000" stroke="#000" stroke-width="0.15" textLength="50.38" lengthAdjust="spacingAndGlyphs">28 Jan 2019</text>
<text transform="translate(258.87,392) skewX(0.05)" font-size="9.8" fill="#000" stroke="#000" stroke-width="0.15" textLength="46.65" lengthAdjust="spacingAndGlyphs">1 Feb 2019</text>
<text transform="translate(322.13,392) skewX(0.05)" font-size="9.8" fill="#000" stroke="#000" stroke-width="0.15" textLength="47.35" lengthAdjust="spacingAndGlyphs">7 Feb 2019</text>
<text transform="translate(386.9,392) skewX(0.05)" font-size="9.8" fill="#000" stroke="#000" stroke-width="0.15" textLength="50.15" lengthAdjust="spacingAndGlyphs">13 Feb 2019</text>
<text transform="translate(450.9,392) skewX(0.05)" font-size="9.8" fill="#000" stroke="#000" stroke-width="0.15" textLength="50.15" lengthAdjust="spacingAndGlyphs">19 Feb 2019</text>
<text transform="translate(514.6,392) skewX(0.05)" font-size="9.8" fill="#000" stroke="#000" stroke-width="0.15" textLength="50.58" lengthAdjust="spacingAndGlyphs">25 Feb 2019</text>
<rect x="659" y="25" width="41" height="11" fill="#000" shape-rendering="crispEdges"/>
<text transform="translate(662.87,34) skewX(0.05)" font-size="9.8" fill="#fff" stroke="#fff" stroke-width="0.15" textLength="33.22" lengthAdjust="spacingAndGlyphs">1.32857</text>
</svg></body></html>
